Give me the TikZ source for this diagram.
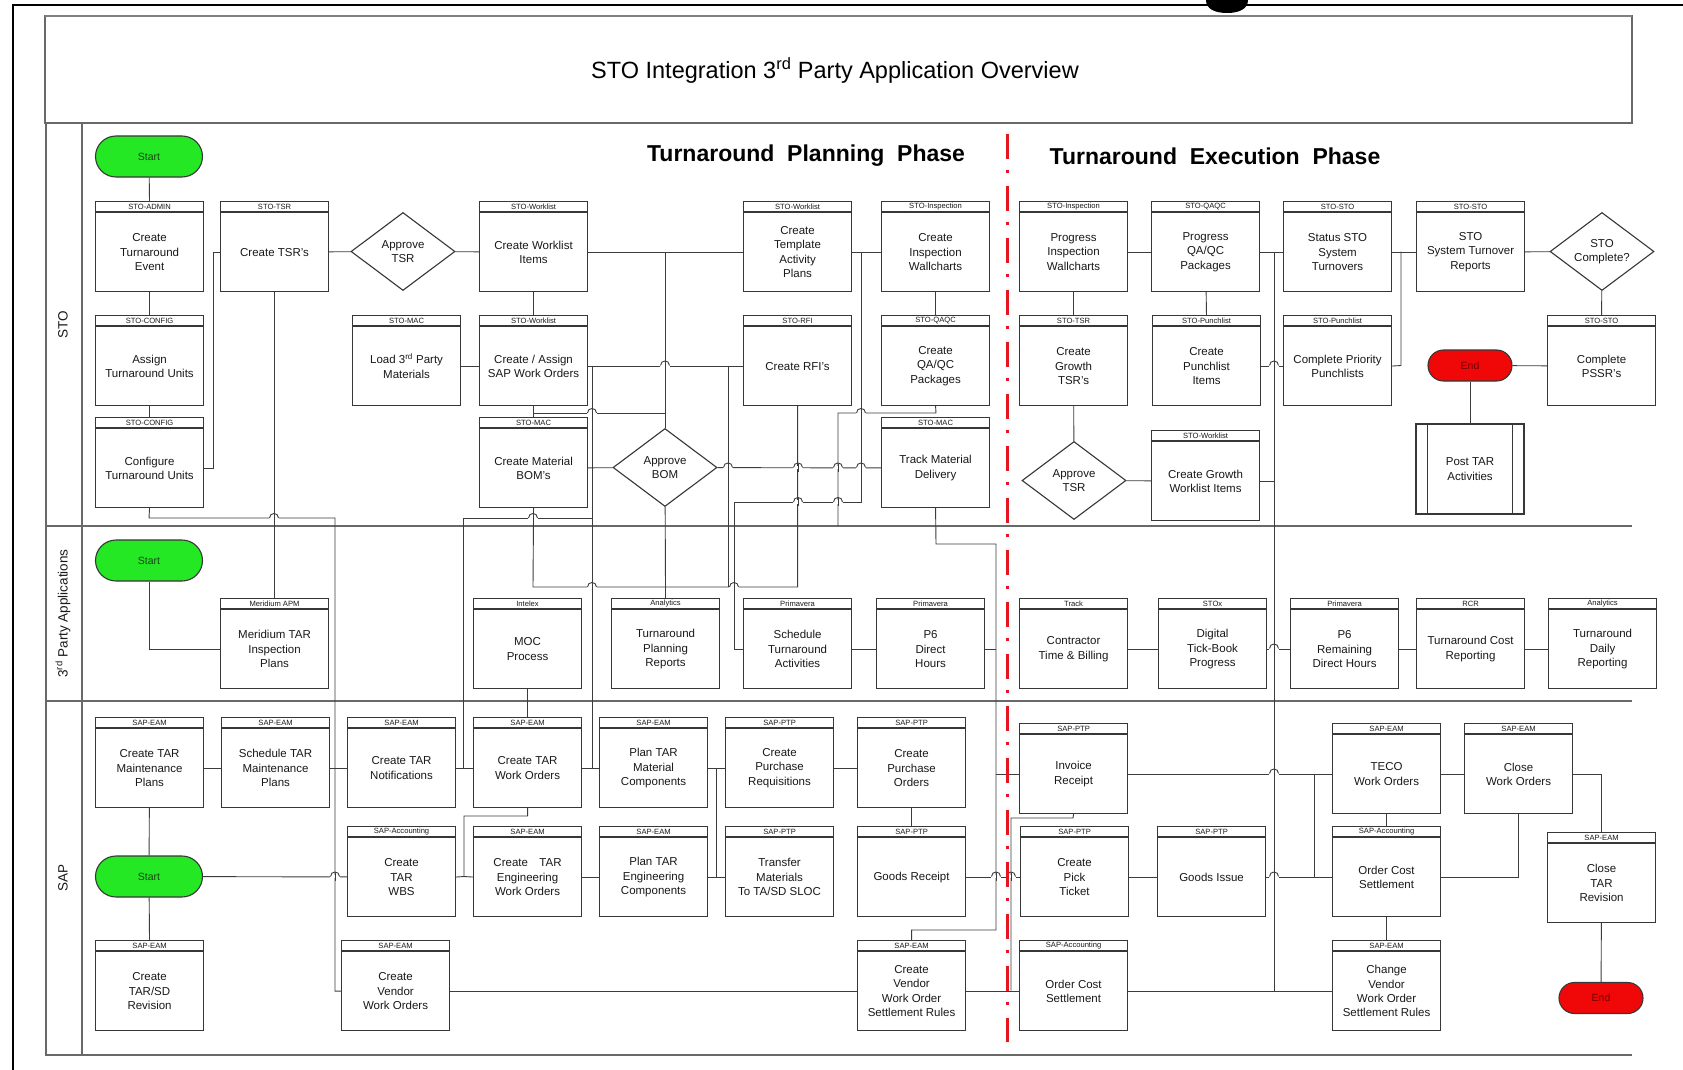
\documentclass[tikz,border=0pt]{standalone}
\usepackage{fontspec}
\setmainfont{Liberation Sans}
\usetikzlibrary{shapes.geometric}
\definecolor{ln}{RGB}{60,60,60}
\definecolor{bx}{RGB}{55,55,55}
\definecolor{lane}{RGB}{105,105,105}
\definecolor{tx}{RGB}{25,25,25}
\definecolor{grn}{RGB}{35,232,35}
\definecolor{dkgrn}{RGB}{25,70,25}
\definecolor{rd}{RGB}{240,8,8}
\definecolor{dkrd}{RGB}{110,0,0}
\definecolor{dashred}{RGB}{228,22,32}
\newcommand\pbox[5]{%
  \node[pbody, anchor=north west] (#1) at (#2,#3+10) {#5};
  \node[phead, anchor=south west] (#1-h) at (#2,#3+10) {#4};}
\newcommand\hopat[2]{%
  \fill[white] (#1-5,#2-1.7) rectangle (#1+5,#2+1.7);
  \draw[conn] (#1,#2-4) -- (#1,#2+4);
  \draw[conn] (#1-4.5,#2) .. controls (#1-4.5,#2-6) and (#1+4.5,#2-6) .. (#1+4.5,#2);}
\begin{document}
\begin{tikzpicture}[x=1pt,y=-1pt,
  pbody/.style={draw=bx, line width=1.1pt, fill=white, inner sep=0pt, minimum width=108pt, minimum height=79pt, align=center, text=tx, font=\fontsize{11.5}{14.3}\selectfont},
  phead/.style={draw=bx, line width=1.1pt, fill=white, inner sep=0pt, minimum width=108pt, minimum height=10pt, text=tx, font=\fontsize{7.6}{8}\selectfont},
  dia/.style={draw=bx, line width=1.1pt, fill=white, diamond, aspect=1.33, inner sep=0pt, minimum width=104pt, minimum height=78pt, align=center, text=tx, font=\fontsize{11.5}{14.3}\selectfont},
  term/.style={draw=bx, line width=1.1pt, inner sep=0pt, font=\fontsize{10.5}{12}\selectfont},
  conn/.style={draw=ln, line width=0.9pt},
  laneline/.style={draw=lane, line width=1.3pt},
  lanelabel/.style={rotate=90, text=tx, font=\fontsize{13.5}{16}\selectfont},
  phase/.style={text=black, font=\fontsize{23}{26}\selectfont\bfseries}]
\useasboundingbox (0,0) rectangle (1683,1070);
\fill[white] (0,0) rectangle (1683,1070);
% outer frame and cut glyph
\draw[black, line width=2.4pt] (13,1070) -- (13,5) -- (1683,5);
\fill[black] (1206,0) -- (1248,0) .. controls (1248,9) and (1239,13) .. (1227,13) .. controls (1215,13) and (1206,9) .. (1206,0) -- cycle;
% title box and lanes
\draw[draw=lane, line width=1.1pt] (45,16) rectangle (1632,123);
\draw[draw=gray, line width=2.2pt] (45,16) -- (1632,16);
\node[text=black, font=\fontsize{23.5}{26}\selectfont] (title) at (835,70) {STO Integration 3\textsuperscript{rd} Party Application Overview};
\draw[laneline] (45,123) -- (1632,123);
\draw[laneline] (46,123) -- (46,1055) -- (1632,1055);
\draw[laneline] (82,123) -- (82,1055);
\draw[laneline] (46,526) -- (1632,526);
\draw[laneline] (46,701) -- (1632,701);
\node[lanelabel] (lsto) at (63,324.5) {STO};
\node[lanelabel] (l3rd) at (63,613.5) {3\textsuperscript{rd} Party Applications};
\node[lanelabel] (lsap) at (63,878) {SAP};
\node[phase] (ph1) at (806,156) {Turnaround\ \ Planning\ \ Phase};
\node[phase] (ph2) at (1215,156) {Turnaround\ \ Execution\ \ Phase};
% ---------------- STO lane
\node[term, fill=grn, text=dkgrn, minimum width=107pt, minimum height=41pt, rounded corners=20.5pt] (start1) at (149,156.5) {Start};
\pbox{ste}{95}{202}{STO-ADMIN}{Create\\Turnaround\\Event}
\pbox{stsr}{220}{202}{STO-TSR}{Create TSR's}
\node[dia] (atsr) at (403,251.5) {Approve\\TSR};
\pbox{cwl}{479}{202}{STO-Worklist}{Create Worklist\\Items}
\pbox{ctap}{743}{202}{STO-Worklist}{Create\\Template\\Activity\\Plans}
\pbox{ciw}{881}{202}{STO-Inspection}{Create\\Inspection\\Wallcharts}
\pbox{piw}{1019}{202}{STO-Inspection}{Progress\\Inspection\\Wallcharts}
\pbox{pqa}{1151}{202}{STO-QAQC}{Progress\\QA/QC\\Packages}
\pbox{sss}{1283}{202}{STO-STO}{Status STO\\System\\Turnovers}
\pbox{str}{1416}{202}{STO-STO}{STO\\System Turnover\\Reports}
\node[dia] (scomp) at (1602,251.5) {STO\\Complete?};
\pbox{atu}{95}{316}{STO-CONFIG}{Assign\\Turnaround Units}
\pbox{l3p}{352}{316}{STO-MAC}{Load 3\textsuperscript{rd} Party\\Materials}
\pbox{casw}{479}{316}{STO-Worklist}{Create / Assign\\SAP Work Orders}
\pbox{rfi}{743}{316}{STO-RFI}{Create RFI's}
\pbox{cqa}{881}{316}{STO-QAQC}{Create\\QA/QC\\Packages}
\pbox{cgt}{1019}{316}{STO-TSR}{Create\\Growth\\TSR's}
\pbox{cpi}{1152}{316}{STO-Punchlist}{Create\\Punchlist\\Items}
\pbox{cpp}{1283}{316}{STO-Punchlist}{Complete Priority\\Punchlists}
\node[term, fill=rd, text=dkrd, minimum width=84pt, minimum height=31pt, rounded corners=15.5pt] (end1) at (1470,365.5) {End};
\pbox{pssr}{1547}{316}{STO-STO}{Complete\\PSSR's}
\pbox{ctu}{95}{418}{STO-CONFIG}{Configure\\Turnaround Units}
\pbox{bom}{479}{418}{STO-MAC}{Create Material\\BOM's}
\node[dia] (abom) at (665,467.5) {Approve\\BOM};
\pbox{tmd}{881}{418}{STO-MAC}{Track Material\\Delivery}
\node[dia] (atsr2) at (1074,480.5) {Approve\\TSR};
\pbox{cgw}{1151}{431}{STO-Worklist}{Create Growth\\Worklist Items}
\node[pbody, minimum height=90pt] (post) at (1470,469) {Post TAR\\Activities};
\draw[draw=bx, line width=1.1pt] ([xshift=12pt]post.north west) -- ([xshift=12pt]post.south west);
\draw[draw=bx, line width=1.1pt] ([xshift=-12pt]post.north east) -- ([xshift=-12pt]post.south east);
% ---------------- 3rd party lane
\node[term, fill=grn, text=dkgrn, minimum width=107pt, minimum height=41pt, rounded corners=20.5pt] (start2) at (149,560.5) {Start};
\pbox{mer}{220}{599}{Meridium APM}{Meridium TAR\\Inspection\\Plans}
\pbox{moc}{473}{599}{Intelex}{MOC\\Process}
\pbox{tpr}{611}{599}{Analytics}{Turnaround\\Planning\\Reports}
\pbox{sta}{743}{599}{Primavera}{Schedule\\Turnaround\\Activities}
\pbox{p6d}{876}{599}{Primavera}{P6\\Direct\\Hours}
\pbox{ctb}{1019}{599}{Track}{Contractor\\Time \& Billing}
\pbox{dtb}{1158}{599}{STOx}{Digital\\Tick-Book\\Progress}
\pbox{p6r}{1290}{599}{Primavera}{P6\\Remaining\\Direct Hours}
\pbox{tcr}{1416}{599}{RCR}{Turnaround Cost\\Reporting}
\pbox{tdr}{1548}{599}{Analytics}{Turnaround\\Daily\\Reporting}
% ---------------- SAP lane
\pbox{ctmp}{95}{718}{SAP-EAM}{Create TAR\\Maintenance\\Plans}
\pbox{stmp}{221}{718}{SAP-EAM}{Schedule TAR\\Maintenance\\Plans}
\pbox{ctn}{347}{718}{SAP-EAM}{Create TAR\\Notifications}
\pbox{ctwo}{473}{718}{SAP-EAM}{Create TAR\\Work Orders}
\pbox{ptmc}{599}{718}{SAP-EAM}{Plan TAR\\Material\\Components}
\pbox{cpr}{725}{718}{SAP-PTP}{Create\\Purchase\\Requisitions}
\pbox{cpo}{857}{718}{SAP-PTP}{Create\\Purchase\\Orders}
\pbox{inv}{1019}{724}{SAP-PTP}{Invoice\\Receipt}
\pbox{teco}{1332}{724}{SAP-EAM}{TECO\\Work Orders}
\pbox{cwo}{1464}{724}{SAP-EAM}{Close\\Work Orders}
\node[term, fill=grn, text=dkgrn, minimum width=107pt, minimum height=41pt, rounded corners=20.5pt] (start3) at (149,876.5) {Start};
\pbox{wbs}{347}{827}{SAP-Accounting}{Create\\TAR\\WBS}
\pbox{cewo}{473}{827}{SAP-EAM}{Create\quad TAR\\Engineering\\Work Orders}
\pbox{ptec}{599}{827}{SAP-EAM}{Plan TAR\\Engineering\\Components}
\pbox{tm}{725}{827}{SAP-PTP}{Transfer\\Materials\\To TA/SD SLOC}
\pbox{gr}{857}{827}{SAP-PTP}{Goods Receipt}
\pbox{cpt}{1020}{827}{SAP-PTP}{Create\\Pick\\Ticket}
\pbox{gi}{1157}{827}{SAP-PTP}{Goods Issue}
\pbox{ocs2}{1332}{827}{SAP-Accounting}{Order Cost\\Settlement}
\pbox{ctar}{1547}{833}{SAP-EAM}{Close\\TAR\\Revision}
\pbox{csd}{95}{941}{SAP-EAM}{Create\\TAR/SD\\Revision}
\pbox{cvwo}{341}{941}{SAP-EAM}{Create\\Vendor\\Work Orders}
\pbox{cvs}{857}{941}{SAP-EAM}{Create\\Vendor\\Work Order\\Settlement Rules}
\pbox{ocs1}{1019}{941}{SAP-Accounting}{Order Cost\\Settlement}
\pbox{chv}{1332}{941}{SAP-EAM}{Change\\Vendor\\Work Order\\Settlement Rules}
\node[term, fill=rd, text=dkrd, minimum width=84pt, minimum height=31pt, rounded corners=15.5pt] (end2) at (1601,998) {End};
% ---------------- connectors: STO planning
\draw[conn] (start1) -- (ste-h);
\draw[conn] (ste) -- (atu-h);
\draw[conn] (atu) -- (ctu-h);
\draw[conn] (ctu.east) -- ++(9,0) |- (stsr.west);
\draw[conn] (stsr) -- (atsr);
\draw[conn] (atsr) -- (cwl);
\draw[conn] (cwl) -- (casw-h);
\draw[conn] (cwl) -- (ctap);
\draw[conn] (abom.north) -- (abom.north |- cwl.east);
\draw[conn] (ctap) -- (ciw);
\draw[conn] (ciw) -- (cqa-h);
\draw[conn] (l3p) -- (casw);
\draw[conn] (casw) -- (rfi);
\draw[conn] (casw) -- (bom-h);
\coordinate (jb1) at (533,413);
\coordinate (jb2) at (665,413);
\draw[conn] (jb1) -- (jb2);
\draw[conn] (bom) -- (abom);
\draw[conn] (abom) -- (tmd);
\draw[conn] (abom) -- (tpr-h);
\coordinate (j592t) at (592,365.5);
\coordinate (j592b) at (592,767.5);
\draw[conn] (j592t) -- (j592b);
\coordinate (j463) at (463,518);
\draw[conn] (j463) -- (592,518);
\draw[conn] (j463) -- (463,767.5);
\draw[conn] (bom.south) -- (533,587) -| (rfi.south);
\coordinate (j728) at (728,365.5);
\draw[conn] (j728) -- (728,587);
\coordinate (j861) at (861,251.5);
\draw[conn] (j861) -- (861,502) -- (734,502) |- (sta.west);
\draw[conn] (cqa.south) -- (936,413) -- (838,413) -- (838,526);
\draw[conn] (tmd.south) -- (936,544) -- (996,544) -- (996,930) -| (cvs-h.north);
\draw[conn] (p6d.east) -- (996,0 |- p6d.east);
\draw[conn] (996,0 |- inv.west) -- (inv.west);
% 3rd party
\draw[conn] (start2.south) |- (mer.west);
\draw[conn] (stsr.south) -- (stsr.south |- mer-h.north);
\draw[conn] (ctu.south) -- (149,518) -- (335,518) |- (cvwo.west);
\draw[conn] (moc) -- (ctwo-h);
\draw[conn] (sta) -- (p6d);
\draw[conn] (ctb) -- (dtb);
\draw[conn] (dtb) -- (p6r);
\draw[conn] (p6r) -- (tcr);
\draw[conn] (tcr) -- (tdr);
% STO execution
\draw[conn] (piw) -- (pqa);
\draw[conn] (piw) -- (cgt-h);
\draw[conn] (cgt) -- (atsr2);
\draw[conn] (atsr2) -- (cgw);
\draw[conn] (pqa) -- (cpi-h);
\draw[conn] (pqa) -- (sss);
\draw[conn] (cpi) -- (cpp);
\draw[conn] (sss) -- (str);
\draw[conn] (cpp.east) -- (1401,365.5) -- (1401,251.5);
\draw[conn] (str) -- (scomp);
\draw[conn] (scomp) -- (pssr-h);
\draw[conn] (pssr) -- (end1);
\draw[conn] (end1) -- (post);
\coordinate (j1274) at (1274,251.5);
\draw[conn] (j1274) -- (1274,990.5);
\draw[conn] (cgw.east) -- (1274,0 |- cgw.east);
% SAP
\draw[conn] (ctmp) -- (stmp);
\draw[conn] (stmp) -- (ctn);
\draw[conn] (ctmp) -- (start3);
\draw[conn] (start3) -- (csd-h);
\draw[conn] (start3) -- (wbs);
\draw[conn] (ctn) -- (ctwo);
\draw[conn] (wbs.east) -- (464,876.5) -- (464,816) -| (ctwo.south);
\draw[conn] (cewo.west) -- (464,876.5);
\draw[conn] (ctwo) -- (ptmc);
\draw[conn] (cewo) -- (ptec);
\draw[conn] (ptmc) -- (cpr);
\draw[conn] (ptec) -- (tm);
\draw[conn] (716,767.5) -- (716,876.5);
\draw[conn] (cpr) -- (cpo);
\draw[conn] (cpo) -- (gr-h);
\draw[conn] (gr) -- (cpt);
\draw[conn] (inv.south) -- (1073,818) -- (1011,818) -- (1011,990.5);
\draw[conn] (cvwo) -- (cvs);
\draw[conn] (cvs) -- (ocs1);
\draw[conn] (ocs1) -- (chv);
\draw[conn] (inv) -- (teco);
\draw[conn] (cpt) -- (gi);
\draw[conn] (gi) -- (ocs2);
\draw[conn] (1314,773.5) -- (1314,876.5);
\draw[conn] (teco) -- (ocs2-h);
\draw[conn] (teco) -- (cwo);
\draw[conn] (ocs2.east) -| (cwo.south);
\draw[conn] (cwo.east) -| (ctar-h.north);
\draw[conn] (ctar) -- (end2);
\draw[conn] (ocs2) -- (chv-h);
% hops
\hopat{665}{365.5}
\hopat{592}{413}
\hopat{861}{413}
\hopat{533}{518}
\hopat{274}{518}
\hopat{592}{587}
\hopat{734}{587}
\hopat{728}{467.5}
\hopat{798}{467.5}
\hopat{838}{467.5}
\hopat{861}{467.5}
\hopat{798}{502}
\hopat{838}{502}
\hopat{1274}{648.5}
\hopat{1274}{365.5}
\hopat{335}{876.5}
\hopat{996}{876.5}
\hopat{1011}{876.5}
\hopat{1274}{773.5}
\hopat{1274}{876.5}
% phase divider
\draw[dashred, line width=3pt, dash pattern=on 25pt off 11pt on 3pt off 13pt] (1007,134) -- (1007,1042);
\end{tikzpicture}
\end{document}
